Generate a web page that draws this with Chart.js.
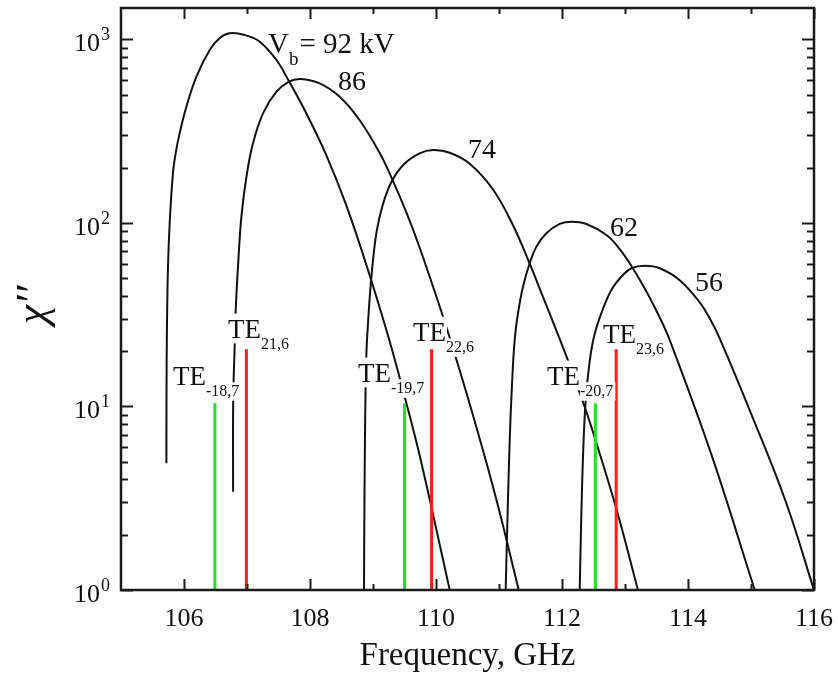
<!DOCTYPE html>
<html>
<head>
<meta charset="utf-8">
<script src="https://cdn.jsdelivr.net/npm/chart.js@4.4.1/dist/chart.umd.min.js"></script>
<style>
  html, body { margin: 0; padding: 0; background: #fff; }
  canvas { display: block; }
</style>
</head>
<body>
<canvas id="chart" width="838" height="684"></canvas>
<script>
// Imaginary susceptibility chi'' against frequency, one curve per beam voltage.
const freq92 = [105.721, 105.722, 105.729, 105.746, 105.773, 105.825, 105.871, 105.932, 106.038, 106.197, 106.408, 106.567, 106.725, 106.964, 107.202, 107.467, 107.667, 107.943, 108.260, 108.578, 108.948, 109.265, 109.503, 109.741, 110.218];
const chi92  = [4.90, 10.8, 26.1, 57.7, 99.8, 187, 243, 309, 429, 626, 874, 1016, 1078, 1055, 970, 771, 590, 394, 233, 124, 51.7, 22.6, 11.3, 5.40, 1.0];

const freq86 = [106.779, 106.781, 106.805, 106.821, 106.857, 106.911, 106.991, 107.095, 107.254, 107.467, 107.667, 107.852, 108.154, 108.471, 108.789, 109.106, 109.292, 109.530, 109.741, 110.086, 110.324, 110.587, 110.948, 111.313];
const chi86  = [3.43, 10.8, 21.6, 33.5, 57.7, 108, 178, 271, 395, 518, 588, 608, 575, 486, 362, 240, 177, 114, 73.2, 32.8, 18.0, 8.95, 3.21, 1.0];

const freq74 = [108.857, 108.868, 108.892, 108.924, 108.975, 109.054, 109.154, 109.292, 109.487, 109.741, 109.952, 110.218, 110.535, 110.905, 111.222, 111.487, 111.698, 111.911, 112.122, 112.376, 112.546, 112.864, 113.206];
const chi74  = [1.0, 4.51, 17.9, 29.6, 50.9, 88.1, 125, 167, 208, 239, 249, 241, 210, 152, 97.0, 59.9, 39.5, 25.9, 16.8, 9.59, 6.32, 2.76, 1.0];

const freq62 = [111.106, 111.127, 111.170, 111.206, 111.249, 111.302, 111.381, 111.487, 111.594, 111.752, 111.964, 112.149, 112.387, 112.705, 112.916, 113.102, 113.340, 113.551, 113.710, 114.376, 115.059];
const chi62  = [1.0, 1.95, 6.56, 13.1, 23.0, 32.2, 44.9, 60.2, 74.2, 87.7, 98.6, 101.5, 98.6, 85.9, 72.0, 58.2, 42.3, 30.5, 23.0, 5.41, 1.0];

const freq56 = [112.281, 112.305, 112.337, 112.376, 112.432, 112.503, 112.625, 112.784, 112.968, 113.102, 113.313, 113.551, 113.868, 114.186, 114.344, 114.503, 115.027, 115.562, 116.0];
const chi56  = [1.0, 2.41, 5.79, 10.8, 16.8, 23.6, 32.2, 43.1, 52.0, 56.6, 58.4, 56.6, 48.7, 36.9, 30.2, 23.5, 8.70, 2.96, 1.0];

// Cavity mode frequencies (GHz) and the height each marker reaches
const evenModeFreq = [106.99, 109.93, 112.86];   // TE 21,6 / 22,6 / 23,6
const evenModeTop = 20.5;
const oddModeFreq = [106.49, 109.50, 112.53];    // TE -18,7 / -19,7 / -20,7
const oddModeTop = 10.4;

// Axis ticks and their labels
const xTickValues = [106, 108, 110, 112, 114, 116];
const xTickLabels = ['106', '108', '110', '112', '114', '116'];
const xMinorValues = [107, 109, 111, 113, 115];
const yDecades = [1, 10, 100, 1000];
const yExponents = ['0', '1', '2', '3'];

// Text labels
const voltageLabel = ['V', 'b', '= 92 kV'];
const curveLabels = ['86', '74', '62', '56'];
const modeLabels = [['TE', '-18,7'], ['TE', '21,6'], ['TE', '-19,7'], ['TE', '22,6'], ['TE', '-20,7'], ['TE', '23,6']];

// Where each label sits, as (frequency, chi'') of its left baseline point
const voltageLabelAt = [107.333, 842];
const curveLabelAt = [[108.444, 529], [110.508, 226], [112.762, 84.8], [114.111, 42.6]];
const modeLabelAt = [[105.825, 13.1], [106.698, 23.6], [108.762, 13.6], [109.635, 22.7], [111.762, 13.1], [112.651, 22.2]];

const SERIF = '"Liberation Serif", "Times New Roman", serif';
const INK = '#111';

function pts(fs, vs) { return fs.map((f, i) => ({ x: f, y: vs[i] })); }

function markers(fs, top, color) {
  return fs.map(f => ({
    data: [{ x: f, y: 1 }, { x: f, y: top }],
    borderColor: color, borderWidth: 3, pointRadius: 0, showLine: true, tension: 0
  }));
}

function curve(fs, vs) {
  return {
    data: pts(fs, vs), borderColor: INK, borderWidth: 2, pointRadius: 0,
    showLine: true, tension: 0.4
  };
}

function put(ctx, str, x, y, size, align, italic) {
  ctx.font = (italic ? 'italic ' : '') + size + 'px ' + SERIF;
  ctx.textAlign = align || 'left';
  ctx.textBaseline = 'alphabetic';
  ctx.fillText(str, x, y);
  return ctx.measureText(str).width;
}

function width(ctx, str, size) {
  ctx.font = size + 'px ' + SERIF;
  return ctx.measureText(str).width;
}

const decorations = {
  id: 'decorations',
  afterDatasetsDraw(chart) {
    const { ctx, chartArea: a, scales: { x, y } } = chart;
    ctx.save();
    ctx.fillStyle = INK;

    // mode labels, each on a white box that interrupts the curves behind it
    modeLabels.forEach((lab, i) => {
      const px = x.getPixelForValue(modeLabelAt[i][0]);
      const py = y.getPixelForValue(modeLabelAt[i][1]);
      const big = 27, small = 16, drop = 11;
      const w1 = width(ctx, lab[0], big);
      const w2 = width(ctx, lab[1], small);
      ctx.fillStyle = '#fff';
      ctx.fillRect(px - 1, py - big * 0.9, w1 + 2, big * 1.1);
      ctx.fillRect(px + w1, py + drop - small * 0.85, w2 + 2, small * 1.15);
      ctx.fillStyle = INK;
      put(ctx, lab[0], px, py, big);
      put(ctx, lab[1], px + w1, py + drop, small);
    });

    // beam voltage labels
    {
      const px = x.getPixelForValue(voltageLabelAt[0]);
      const py = y.getPixelForValue(voltageLabelAt[1]);
      let cx = px;
      cx += put(ctx, voltageLabel[0], cx, py, 29);
      cx += put(ctx, voltageLabel[1], cx, py + 12, 19);
      put(ctx, voltageLabel[2], cx + 1, py, 29);
    }
    curveLabels.forEach((t, i) => {
      put(ctx, t, x.getPixelForValue(curveLabelAt[i][0]), y.getPixelForValue(curveLabelAt[i][1]), 28);
    });

    // frame
    ctx.strokeStyle = '#1a1a1a';
    ctx.lineWidth = 2.5;
    ctx.strokeRect(a.left, a.top, a.right - a.left, a.bottom - a.top);

    // inward tick marks on all four sides
    ctx.lineWidth = 2;
    ctx.beginPath();
    x.ticks.forEach(t => {
      const px = Math.round(x.getPixelForValue(t.value)) + 0.5;
      const len = xTickValues.includes(t.value) ? 11 : 6;
      ctx.moveTo(px, a.bottom); ctx.lineTo(px, a.bottom - len);
      ctx.moveTo(px, a.top); ctx.lineTo(px, a.top + len);
    });
    y.ticks.forEach(t => {
      const py = Math.round(y.getPixelForValue(t.value)) + 0.5;
      const len = yDecades.includes(t.value) ? 12 : 7;
      ctx.moveTo(a.left, py); ctx.lineTo(a.left + len, py);
      ctx.moveTo(a.right, py); ctx.lineTo(a.right - len, py);
    });
    ctx.stroke();

    // tick labels
    xTickValues.forEach((v, i) => {
      put(ctx, xTickLabels[i], x.getPixelForValue(v), a.bottom + 36, 26, 'center');
    });
    yDecades.forEach((v, i) => {
      const py = y.getPixelForValue(v);
      put(ctx, '10', a.left - 21, py + 12, 26, 'right');
      put(ctx, yExponents[i], a.left - 20, py + 1, 18, 'left');
    });

    // axis titles
    put(ctx, 'Frequency, GHz', (a.left + a.right) / 2, 665, 33, 'center');
    ctx.save();
    ctx.translate(46, 305);
    ctx.rotate(-Math.PI / 2);
    put(ctx, 'χ′′', 0, 0, 44, 'center', true);
    ctx.restore();

    ctx.restore();
  }
};

new Chart(document.getElementById('chart'), {
  type: 'scatter',
  data: {
    datasets: [
      ...markers(evenModeFreq, evenModeTop, '#ff1a1a'),
      ...markers(oddModeFreq, oddModeTop, '#22e022'),
      curve(freq92, chi92),
      curve(freq86, chi86),
      curve(freq74, chi74),
      curve(freq62, chi62),
      curve(freq56, chi56)
    ]
  },
  options: {
    responsive: false,
    devicePixelRatio: 1,
    animation: false,
    events: [],
    layout: { padding: { left: 0, top: 8, right: 24, bottom: 0 } },
    plugins: { legend: { display: false }, tooltip: { enabled: false } },
    scales: {
      x: {
        type: 'linear', min: 105, max: 116,
        grid: { display: false }, border: { display: false },
        ticks: { display: false },
        afterBuildTicks: s => {
          s.ticks = [...xTickValues, ...xMinorValues].sort((p, q) => p - q).map(v => ({ value: v }));
        },
        afterFit: s => { s.height = 94; }
      },
      y: {
        type: 'logarithmic', min: 1, max: 1480,
        grid: { display: false }, border: { display: false },
        ticks: { display: false },
        afterBuildTicks: s => {
          const list = [];
          yDecades.forEach(d => {
            for (let k = 1; k <= 9; k++) { if (k * d <= s.max) list.push({ value: k * d }); }
          });
          s.ticks = list;
        },
        afterFit: s => { s.width = 121; }
      }
    }
  },
  plugins: [decorations]
});
</script>
</body>
</html>
